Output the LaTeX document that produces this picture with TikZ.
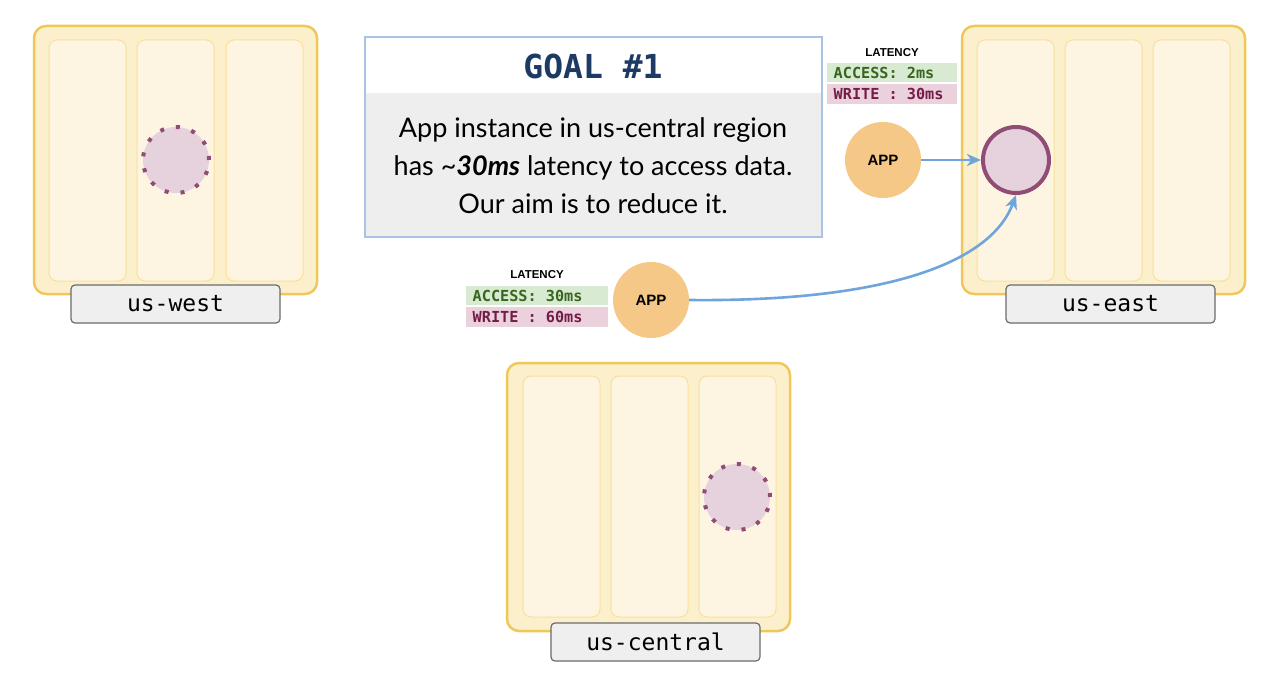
\documentclass[tikz,border=0pt]{standalone}
\usepackage{fontspec}
\setmainfont{Lato}
\newfontfamily\monof{DejaVu Sans Mono}
\newfontfamily\sansf{Liberation Sans}
\usetikzlibrary{arrows.meta}
\newcommand\msp{\hphantom{0}}
\definecolor{regfill}{HTML}{FCF0CC}
\definecolor{regborder}{HTML}{F0C75A}
\definecolor{colfill}{HTML}{FDF5E2}
\definecolor{colborder}{HTML}{F9E09A}
\definecolor{dbfill}{HTML}{E6D2DC}
\definecolor{dbborder}{HTML}{904C75}
\definecolor{lblfill}{HTML}{EFEFEF}
\definecolor{lblborder}{HTML}{6B6B6B}
\definecolor{goalborder}{HTML}{A9C4E3}
\definecolor{goalfill}{HTML}{EEEEEE}
\definecolor{goaltext}{HTML}{1C3A63}
\definecolor{appfill}{HTML}{F6C888}
\definecolor{arrowc}{HTML}{6FA5DA}
\definecolor{accfill}{HTML}{D9EAD3}
\definecolor{acctext}{HTML}{38661E}
\definecolor{wrfill}{HTML}{EAD1DC}
\definecolor{wrtext}{HTML}{741B47}
\begin{document}
\begin{tikzpicture}[x=1pt,y=-1pt,
  outer/.style={draw=regborder, line width=2.5pt, fill=regfill, rounded corners=12pt,
    minimum width=283pt, minimum height=268pt, anchor=north west, inner sep=0pt, outer sep=0pt},
  col/.style={draw=colborder, line width=1pt, fill=colfill, rounded corners=8pt,
    minimum width=77pt, minimum height=241pt, anchor=north west, inner sep=0pt, outer sep=0pt},
  lbl/.style={draw=lblborder, line width=1.2pt, fill=lblfill, rounded corners=4pt,
    minimum width=209pt, minimum height=38pt, anchor=north west, inner sep=0pt, outer sep=0pt,
    font=\monof\fontsize{23}{23}\selectfont},
  dbdot/.style={circle, fill=dbfill, draw=dbborder, line width=4pt, minimum size=66pt,
    inner sep=0pt, dash pattern=on 4pt off 12pt},
  dbsolid/.style={circle, fill=dbfill, draw=dbborder, line width=4pt, minimum size=66pt, inner sep=0pt},
  app/.style={circle, fill=appfill, minimum size=76pt, inner sep=0pt,
    font=\sansf\bfseries\fontsize{15}{15}\selectfont},
  lat/.style={font=\sansf\bfseries\fontsize{11.5}{11.5}\selectfont, inner sep=0pt},
  accbox/.style={fill=accfill, text=acctext, anchor=north west, align=left, inner xsep=6.5pt,
    inner ysep=0pt, minimum height=19pt, font=\monof\bfseries\fontsize{15.2}{15.2}\selectfont},
  wrbox/.style={accbox, fill=wrfill, text=wrtext, minimum height=20pt},
  arr/.style={draw=arrowc, line width=2.6pt, -{Stealth[length=14pt,width=12pt,inset=4pt]}},
]
\useasboundingbox (0,0) rectangle (1280,679);
\fill[white] (0,0) rectangle (1280,679);

% us-west
\node[outer] (w) at (34,26) {};
\node[col] (w1) at (49,40) {};
\node[col] (w2) at (137,40) {};
\node[col] (w3) at (226,40) {};
\node[lbl] (wl) at (71,285) {us-west};
\node[dbdot] (wdb) at (176,160) {};

% us-east
\node[outer] (e) at (962,26) {};
\node[col] (e1) at (977,40) {};
\node[col] (e2) at (1065,40) {};
\node[col] (e3) at (1153,40) {};
\node[lbl] (el) at (1006,285) {us-east};
\node[dbsolid] (edb) at (1016,160) {};

% us-central
\node[outer] (c) at (507,363) {};
\node[col] (c1) at (523,376) {};
\node[col] (c2) at (611,376) {};
\node[col] (c3) at (699,376) {};
\node[lbl] (cl) at (551,623) {us-central};
\node[dbdot] (cdb) at (737,497) {};

% goal box
\node[fill=goalfill, minimum width=457pt, minimum height=200pt, anchor=north west,
  inner sep=0pt, outer sep=0pt] (goal) at (365,37) {};
\node[fill=white, minimum width=456pt, minimum height=56pt, anchor=north west,
  inner sep=0pt, outer sep=0pt] (goalhead) at (365.5,37.5) {};
\draw[goalborder, line width=1.5pt] (goal.north west) rectangle (goal.south east);
\node[text=goaltext, font=\monof\bfseries\fontsize{33}{33}\selectfont] (title) at (593,66) {GOAL\msp\#1};
\node[align=center, font=\fontsize{27}{38}\selectfont] (body) at (593,166)
  {App instance in us-central region\\has \textasciitilde\textbf{\textit{30ms}} latency to access data.\\Our aim is to reduce it.};

% upper latency
\node[lat] (lat1) at (892,53) {LATENCY};
\node[accbox, text width=117pt] (acc1) at (827,63) {ACCESS:\msp2ms};
\node[wrbox, text width=117pt] (wr1) at (827,84) {WRITE\msp:\msp30ms};
\node[app] (app1) at (883,160) {APP};

% lower latency
\node[lat] (lat2) at (537,275) {LATENCY};
\node[accbox, text width=129pt] (acc2) at (466,286) {ACCESS:\msp30ms};
\node[wrbox, text width=129pt] (wr2) at (466,307) {WRITE\msp:\msp60ms};
\node[app] (app2) at (651,300) {APP};

% arrows
\draw[arr] (app1.east) -- (edb.west);
\draw[arr] (app2.east) .. controls (880,302) and (990,265) .. (edb.south);
\end{tikzpicture}
\end{document}
